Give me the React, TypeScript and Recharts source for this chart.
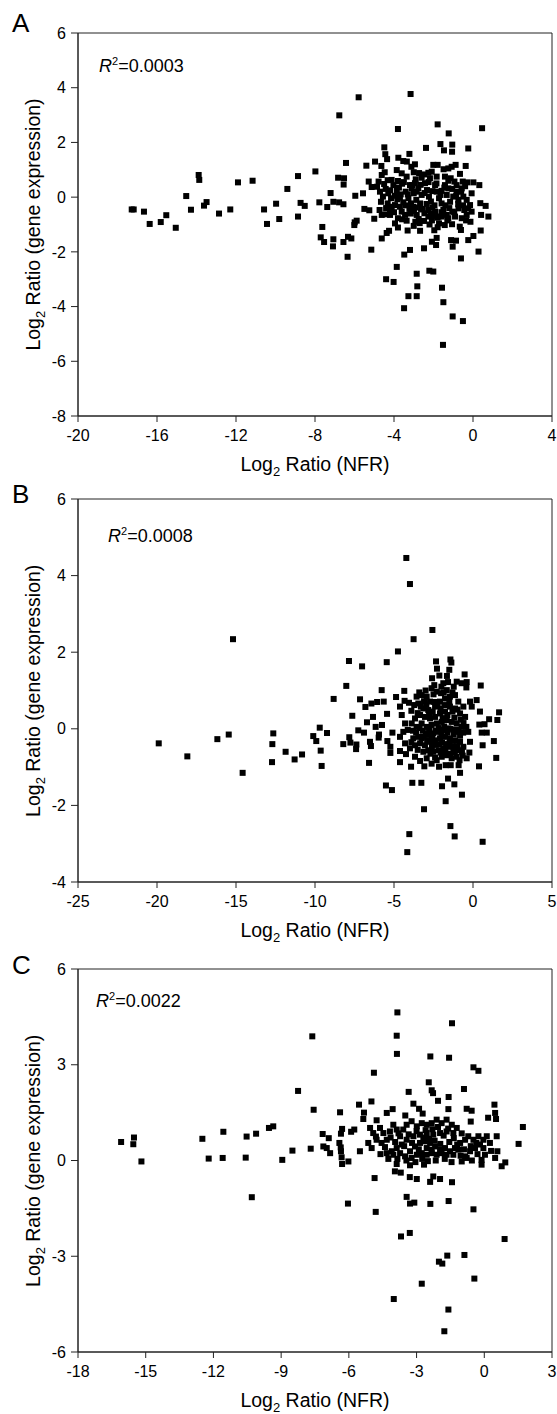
import { ScatterChart, Scatter, XAxis, YAxis, ReferenceArea } from "recharts";

const FONT = "Liberation Sans, Arial, Helvetica, sans-serif";

// Panel A: [Log2 ratio NFR, Log2 ratio gene expression]
const pointsA: [number, number][] = [
  [-17.28, -0.45], [-17.18, -0.45], [-16.66, -0.53], [-16.37, -0.98], [-15.81, -0.91], [-15.53, -0.66],
  [-15.05, -1.12], [-14.52, 0.04], [-14.28, -0.46], [-13.89, 0.81], [-13.86, 0.63], [-13.62, -0.31],
  [-13.49, -0.18],
  [-5.79, 3.65], [-3.16, 3.77], [-6.77, 2.99], [-3.8, 2.49], [-1.79, 2.66], [-1.23, 2.33], [-2.38, 1.8],
  [-4.49, 1.82], [-1.65, 1.94], [-1.05, 1.92], [-1.47, 1.71], [-1.06, 1.66], [-0.24, 1.78], [-6.43, 1.25],
  [-4.44, 1.57], [-4.35, 1.39], [-3.78, 1.44], [-3.53, 1.32], [-3.35, 1.3], [-3.22, 1.58], [-5.4, 1.15],
  [-4.96, 1.3], [-4.64, 1.14], [-8.86, 0.77], [-7.98, 0.94], [-11.9, 0.54], [-11.16, 0.6], [-9.4, 0.3],
  [-6.83, 0.71], [-6.53, 0.69], [-6.55, 0.46], [-7.21, 0.15], [-5.96, 0.05], [-5.57, 0.14], [-5.28, 0.57],
  [-5.13, 0.37], [-4.78, 0.57], [-4.62, 0.81], [-4.47, 0.91], [-4.32, 0.62], [-4.12, 0.63], [-3.8, 0.59],
  [-3.59, 0.49], [-3.12, 1.11], [-3.0, 0.91], [-2.9, 0.65], [-3.09, 0.44], [-2.73, 0.88], [-2.48, 0.83],
  [-2.26, 0.89], [-2.01, 1.18], [-1.79, 1.18], [-1.49, 1.02], [-1.25, 1.05], [-1.08, 1.11], [-0.88, 1.18],
  [-0.37, 1.14], [-0.66, 0.85], [-0.52, 0.57], [-0.29, 0.54], [0.02, 0.54], [-1.13, 0.69], [-0.94, 0.57],
  [-1.42, 0.44], [-1.59, 0.23],
  [-12.86, -0.6], [-12.29, -0.45], [-10.58, -0.45], [-9.97, -0.24], [-10.43, -0.98], [-9.81, -0.8],
  [-8.86, -0.71], [-8.73, -0.21], [-8.52, -0.32], [-7.78, -0.19], [-7.38, -0.36], [-7.07, -0.17],
  [-6.78, -0.19], [-6.56, -0.26], [-7.63, -1.09], [-7.71, -1.47], [-7.54, -1.64], [-7.07, -1.54],
  [-7.09, -1.8], [-6.56, -1.64], [-6.33, -1.45], [-6.16, -1.51], [-6.35, -2.18], [-5.99, -0.92],
  [-5.89, -0.86], [-6.01, -1.02], [-5.5, -0.43], [-5.25, -0.48], [-5.0, -0.79], [-5.15, -1.92],
  [-4.73, -0.47], [-4.62, -1.51], [-4.37, -1.31], [-4.25, -1.23], [-4.42, -0.63], [-4.2, -0.47],
  [-4.14, -0.35], [-3.83, -0.08], [-3.66, 0.1], [-3.95, -0.96], [-3.8, -0.77], [-3.8, -1.11],
  [-3.59, -0.81], [-3.36, -0.86], [-3.31, -1.22], [-3.22, -0.43], [-2.99, -0.51], [-2.92, -0.9],
  [-2.68, -1.23], [-2.75, -0.8], [-2.48, -0.87], [-2.48, -1.87], [-2.08, -0.85], [-1.96, -1.21],
  [-1.79, -1.1], [-1.72, -0.96], [-1.43, -1.02], [-1.06, -0.99], [-0.57, -0.77], [-0.67, -1.08],
  [-0.61, -1.2], [-0.13, -0.9], [0.02, -1.42], [-0.24, -1.57], [-1.11, -1.57], [-0.86, -1.59],
  [-1.03, -1.81], [-1.84, -1.49], [-1.87, -1.75], [-2.08, -1.63], [-3.19, -1.93], [-3.48, -2.1],
  [-0.61, -2.24], [-3.86, -2.55], [-4.4, -3.0], [-4.02, -3.1], [-2.85, -2.8], [-2.21, -2.69],
  [-2.01, -2.72], [-2.82, -3.26], [-1.57, -3.31], [-3.27, -3.62], [-2.85, -3.62], [-3.49, -4.06],
  [-1.5, -3.84], [-1.03, -4.36], [-0.51, -4.53], [-1.52, -5.4],
  [-4.86, 0.38], [-4.71, 0.2], [-4.56, 0.02], [-4.66, -0.17], [-4.42, 0.3], [-4.29, 0.14], [-4.15, -0.04],
  [-4.32, -0.23], [-4.03, 0.44], [-3.86, 0.23], [-3.7, -0.02], [-3.53, -0.19], [-3.41, 0.2], [-3.27, -0.04],
  [-3.14, -0.23], [-3.0, 0.14], [-2.87, -0.1], [-2.77, 0.32], [-2.6, 0.08], [-2.68, -0.23], [-2.43, 0.51],
  [-2.33, 0.26], [-2.23, 0.02], [-2.13, -0.16], [-2.06, -0.38], [-1.92, -0.53], [-2.26, -0.47],
  [-2.46, -0.59], [-2.63, -0.43], [-2.85, -0.65], [-3.02, -0.35], [-1.92, 0.44], [-1.84, 0.2],
  [-1.72, -0.04], [-1.59, -0.23], [-1.5, -0.47], [-1.33, 0.08], [-1.25, 0.32], [-1.16, -0.17],
  [-1.0, 0.02], [-0.83, 0.2], [-0.74, -0.1], [-0.49, 0.02], [-0.32, -0.1], [-0.24, -0.41], [-0.44, -0.47],
  [-0.74, -0.41], [-1.05, -0.53], [-1.33, -0.65], [-1.75, -0.71], [-2.01, -0.68], [-2.26, -0.71],
  [-2.6, 0.71], [-2.18, 0.69], [-1.84, 0.75], [-1.42, 0.75], [-3.36, 0.75], [-3.61, 0.87], [-3.86, 0.99],
  [-2.94, 1.2], [-2.09, 0.93], [-4.62, -0.65], [-4.2, -0.65], [-3.61, -0.53], [-3.44, -0.65],
  [-1.59, -0.71], [-1.25, -0.77], [-0.91, -0.71], [-0.32, -0.65], [-0.07, -0.53], [-0.15, -0.29],
  [-0.07, 0.14], [-0.57, 0.32], [-0.83, 0.44], [-2.94, 0.51], [-3.19, 0.44], [-3.95, -0.29], [-4.12, -0.41],
  [-4.5, 0.48], [-4.2, 0.25], [-3.95, 0.05], [-3.75, 0.35], [-3.5, 0.55], [-3.3, 0.1], [-3.1, 0.32],
  [-2.85, 0.2], [-2.65, 0.45], [-2.45, 0.15], [-2.25, 0.55], [-2.05, 0.22], [-1.85, 0.5], [-1.65, 0.08],
  [-1.45, 0.35], [-1.25, 0.6], [-1.05, 0.3], [-0.85, 0.05], [-0.6, 0.2], [-0.4, 0.4], [-4.4, -0.4],
  [-4.0, -0.55], [-3.7, -0.35], [-3.4, -0.3], [-3.15, -0.6], [-2.9, -0.38], [-2.55, -0.45], [-2.35, -0.25],
  [-2.15, -0.6], [-1.95, -0.3], [-1.8, -0.75], [-1.6, -0.55], [-1.4, -0.3], [-1.2, -0.4], [-0.95, -0.55],
  [-0.75, -0.25], [-0.5, -0.3], [-2.7, -0.95], [-2.2, -1.0], [-1.3, -0.85], [-3.0, -1.05], [-0.35, -0.85],
  [0.46, 2.52], [0.32, 0.44], [0.37, -0.22], [0.64, -0.32], [0.41, -0.65], [0.78, -0.71], [0.39, -1.22],
  [0.28, -1.99],
];

// Panel B
const pointsB: [number, number][] = [
  [-15.19, 2.34], [-19.89, -0.38], [-18.08, -0.72], [-16.18, -0.27], [-15.46, -0.15], [-14.58, -1.15],
  [-12.64, -0.12], [-12.7, -0.4], [-11.86, -0.6], [-12.72, -0.87],
  [-4.22, 4.46], [-3.99, 3.78], [-2.57, 2.58], [-3.76, 2.34], [-4.75, 2.02], [-7.85, 1.77], [-7.02, 1.63],
  [-5.46, 1.74], [-2.34, 1.76], [-1.43, 1.81], [-1.37, 1.73], [-2.28, 1.57], [-1.5, 1.54], [-0.53, 1.42],
  [-2.59, 1.32], [-2.13, 1.39], [-1.65, 1.38], [-1.58, 1.22], [-1.88, 1.19], [-0.4, 1.22], [-0.42, 1.08],
  [-2.45, 1.14], [-1.22, 1.1], [0.49, 1.13], [-8.02, 1.12], [-5.78, 1.01], [-4.35, 0.99], [-8.82, 0.78],
  [-7.15, 0.77], [-4.87, 0.83], [-6.43, 0.66], [-6.07, 0.7], [-5.65, 0.71], [-6.81, 0.57], [-7.64, 0.34],
  [-6.33, 0.31], [-6.71, 0.17], [-6.16, 0.05], [-5.76, 0.1], [-7.26, -0.04], [-6.9, -0.1], [-9.7, 0.03],
  [-9.24, -0.11], [-10.11, -0.19], [-9.92, -0.32], [-7.83, -0.22], [-8.21, -0.4], [-7.76, -0.36],
  [-7.38, -0.41], [-7.4, -0.53], [-6.52, -0.34], [-6.46, -0.45], [-5.95, -0.15], [-5.97, -0.23],
  [-5.44, 0.39], [-5.1, -0.1], [-5.42, -0.32], [-5.23, -0.47], [-5.23, -0.63], [-4.62, -0.58],
  [-4.62, -0.87], [-11.29, -0.8], [-10.82, -0.67], [-9.64, -0.57], [-9.58, -0.97], [-6.58, -0.89],
  [-3.92, -0.99], [-3.08, -0.98], [-2.15, -0.99], [-1.73, -0.95], [-1.41, -0.95], [-0.91, -0.95],
  [0.38, -0.98], [-0.82, -1.15], [-5.51, -1.48], [-5.13, -1.6], [-3.84, -1.41], [-3.27, -1.41],
  [-1.58, -1.3], [-1.96, -1.5], [-1.18, -1.45], [-0.7, -1.72], [-1.73, -1.89], [-3.1, -2.1],
  [-1.43, -2.54], [-1.16, -2.81], [-4.03, -2.75], [-4.16, -3.22], [0.61, -2.95],
  [0.55, -0.1], [0.61, -0.43], [0.4, 0.11], [0.44, 0.45], [0.23, 0.75], [-0.19, 0.71], [-0.08, 0.58],
  [-0.3, -0.08], [-0.19, -0.34], [-0.23, -0.62], [-0.65, -0.7], [-0.4, -0.77],
  [-4.33, 0.73], [-4.05, 0.68], [-4.62, 0.58], [-4.51, 0.36], [-4.3, 0.14], [-4.41, -0.08], [-4.13, -0.03],
  [-4.62, -0.21], [-4.3, -0.38], [-3.99, -0.51], [-4.24, -0.66], [-3.67, -0.73], [-3.35, -0.84],
  [-2.93, -0.77], [-2.62, -0.91], [-2.3, -0.82],
  [-3.57, 0.84], [-3.25, 0.88], [-2.93, 0.84], [-2.72, 0.71], [-3.46, 0.66], [-3.14, 0.53], [-2.83, 0.49],
  [-2.4, 0.58], [-2.09, 0.71], [-1.77, 0.79], [-1.46, 0.84], [-1.14, 0.88], [-0.93, 0.71], [-0.61, 0.58],
  [-0.82, 0.4], [-0.5, 0.31], [-1.14, 0.53], [-1.46, 0.58], [-1.77, 0.45], [-2.09, 0.4], [-2.4, 0.31],
  [-2.72, 0.27], [-3.04, 0.31], [-3.35, 0.36], [-3.67, 0.27], [-3.88, 0.14], [-3.57, 0.05], [-3.25, 0.14],
  [-2.93, 0.05], [-2.62, 0.1], [-2.3, 0.14], [-1.98, 0.18], [-1.66, 0.23], [-1.35, 0.18], [-1.03, 0.14],
  [-0.72, 0.05], [-0.93, -0.08], [-1.24, -0.03], [-1.56, 0.01], [-1.88, -0.03], [-2.19, -0.08],
  [-2.51, -0.12], [-2.83, -0.16], [-3.14, -0.21], [-3.46, -0.21], [-3.78, -0.25], [-3.67, -0.43],
  [-3.35, -0.38], [-3.04, -0.43], [-2.72, -0.34], [-2.4, -0.3], [-2.09, -0.25], [-1.77, -0.21],
  [-1.46, -0.25], [-1.14, -0.3], [-0.82, -0.34], [-0.61, -0.47], [-0.93, -0.56], [-1.24, -0.51],
  [-1.56, -0.47], [-1.88, -0.51], [-2.19, -0.56], [-2.51, -0.6], [-2.83, -0.56], [-3.14, -0.6],
  [-1.98, -0.73], [-1.66, -0.69], [-1.35, -0.77], [-1.03, -0.73], [-2.3, 0.97], [-2.02, 0.93],
  [-1.66, 1.01], [-2.62, 1.06], [-1.03, 1.23], [-0.72, 1.19],
  [-3.9, 0.47], [-3.72, 0.62], [-3.5, 0.41], [-3.3, 0.58], [-3.1, 0.72], [-2.95, 0.63], [-2.78, 0.38],
  [-2.55, 0.45], [-2.45, 0.7], [-2.25, 0.62], [-2.05, 0.53], [-1.92, 0.28], [-1.8, 0.62], [-1.62, 0.36],
  [-1.5, 0.7], [-1.3, 0.45], [-1.18, 0.29], [-0.98, 0.5], [-0.78, 0.24], [-0.6, 0.15], [-3.8, -0.05],
  [-3.6, -0.1], [-3.38, 0.02], [-3.18, -0.05], [-2.98, -0.12], [-2.78, -0.03], [-2.58, -0.2], [-2.38, -0.05],
  [-2.18, 0.02], [-2.0, -0.14], [-1.82, 0.06], [-1.62, -0.1], [-1.42, 0.0], [-1.22, -0.14], [-1.02, -0.02],
  [-0.82, -0.18], [-0.62, -0.1], [-0.42, 0.05], [-3.9, -0.35], [-3.5, -0.55], [-3.25, -0.25], [-2.9, -0.3],
  [-2.6, -0.45], [-2.35, -0.42], [-2.15, -0.4], [-1.95, -0.36], [-1.7, -0.4], [-1.5, -0.38], [-1.3, -0.45],
  [-1.0, -0.45], [-0.7, -0.6], [-2.7, -0.65], [-2.4, -0.75], [-2.05, -0.62], [-1.75, -0.58], [-1.45, -0.65],
  [-1.15, -0.62], [-0.85, -0.82], [-2.5, 0.9], [-2.0, 1.1], [-1.85, 0.95], [-1.3, 0.95], [-3.0, 1.0],
  [-3.4, 0.95],
  [1.65, 0.43], [1.54, 0.23], [1.02, 0.25], [0.73, 0.12], [0.87, -0.1], [1.32, -0.32], [1.47, -0.76],
];

// Panel C
const pointsC: [number, number][] = [
  [-16.09, 0.58], [-15.52, 0.72], [-15.55, 0.51], [-15.19, -0.03], [-12.49, 0.68], [-11.56, 0.9],
  [-12.21, 0.06], [-11.59, 0.08], [-10.53, 0.75], [-10.11, 0.84], [-10.57, 0.09], [-10.3, -1.15],
  [-9.54, 1.02], [-9.35, 1.07],
  [-3.85, 4.64], [-1.43, 4.3], [-7.62, 3.89], [-3.88, 3.91], [-3.87, 3.34], [-2.39, 3.26], [-1.56, 3.22],
  [-0.48, 2.92], [-0.26, 2.81], [-4.89, 2.75], [-2.46, 2.45], [-2.33, 2.2], [-2.27, 2.11], [-0.9, 2.24],
  [-1.58, 1.99], [-2.05, 1.87], [-8.25, 2.18], [-3.35, 2.15], [-7.56, 1.59], [-6.39, 1.51], [-5.55, 1.75],
  [-5.0, 1.85], [-3.14, 1.78], [-2.89, 1.62], [-2.73, 1.47], [-1.59, 1.61], [-0.78, 1.62], [-0.56, 1.56],
  [0.45, 1.75], [0.48, 1.49], [0.52, 1.3], [0.17, 1.34], [-0.6, 1.22], [-5.33, 1.5], [-5.36, 1.3],
  [-4.06, 1.61], [-4.32, 1.49], [-3.5, 1.41], [-4.77, 1.26], [-7.16, 0.83], [-6.89, 0.7], [-6.3, 0.99],
  [-6.35, 0.84], [-5.9, 0.9], [-5.76, 0.97], [-7.13, 0.44], [-6.98, 0.39], [-6.83, 0.23], [-6.42, 0.55],
  [-6.36, 0.41], [-6.35, 0.29], [-8.5, 0.31], [-7.69, 0.37], [-5.51, 0.29], [-6.32, 0.1], [-6.3, -0.11],
  [-6.02, -0.03], [-8.95, 0.02], [-4.86, -0.55], [-6.04, -1.35], [-4.81, -1.61], [-3.96, -0.34],
  [-3.7, -0.38], [-3.88, -0.11], [-3.3, -0.52], [-2.99, -0.58], [-3.29, -0.15], [-2.67, -0.13],
  [-2.4, -0.67], [-2.26, -0.5], [-1.96, -0.58], [-1.43, -0.68], [-3.44, -1.14], [-3.29, -1.35],
  [-3.1, -1.32], [-2.39, -1.36], [-1.58, -1.27], [-0.48, -1.53], [-3.69, -2.38], [-3.3, -2.27],
  [-1.64, -2.98], [-2.01, -3.17], [-1.86, -3.23], [-0.88, -2.96], [-0.44, -3.7], [-2.77, -3.86],
  [-4.01, -4.34], [-1.59, -4.67], [-1.77, -5.35], [0.9, -2.46],
  [-5.06, 1.02], [-4.92, 0.86], [-4.62, 1.02], [-4.47, 0.86], [-4.77, 0.65], [-4.55, 0.55], [-5.14, 0.55],
  [-4.99, 0.39], [-4.32, 0.65], [-4.18, 0.91], [-4.03, 1.12], [-3.88, 0.97], [-3.73, 0.76], [-3.59, 0.97],
  [-3.44, 1.12], [-3.22, 1.23], [-2.99, 1.07], [-2.77, 1.17], [-2.55, 1.12], [-2.33, 1.17], [-2.11, 1.28],
  [-1.89, 1.17], [-1.67, 1.28], [-1.44, 1.12], [-1.22, 1.02], [-1.37, 0.86], [-1.67, 0.91], [-1.96, 0.86],
  [-2.26, 0.81], [-2.55, 0.86], [-2.85, 0.81], [-3.14, 0.76], [-3.44, 0.65], [-3.66, 0.5], [-3.88, 0.39],
  [-4.1, 0.29], [-4.32, 0.23], [-4.03, 0.18], [-3.73, 0.23], [-3.51, 0.13], [-3.29, 0.29], [-3.07, 0.44],
  [-2.85, 0.55], [-2.63, 0.6], [-2.4, 0.55], [-2.18, 0.44], [-1.96, 0.34], [-1.74, 0.39], [-1.52, 0.29],
  [-1.3, 0.39], [-1.07, 0.55], [-0.85, 0.65], [-0.71, 0.76], [-0.48, 0.65], [-0.26, 0.76], [-0.04, 0.65],
  [0.11, 0.76], [-0.19, 0.5], [-0.41, 0.39], [-0.63, 0.29], [-0.85, 0.13], [-1.0, -0.03], [-0.78, 0.08],
  [-0.04, 0.39], [0.03, 0.18], [-0.12, 0.02], [-0.12, -0.13], [0.48, 0.08], [0.58, 0.29], [0.55, 0.76],
  [0.77, -0.18], [-1.15, 0.34], [-1.37, 0.18], [-1.67, 0.18], [-1.89, 0.23], [-2.11, 0.18], [-2.33, 0.23],
  [-2.55, 0.18], [-2.77, 0.23], [-2.99, 0.18], [-3.22, 0.08], [-2.55, 0.39], [-2.33, 0.34],
  [-4.8, 0.75], [-4.4, 0.42], [-4.15, 0.72], [-3.95, 0.58], [-3.8, 0.85], [-3.55, 0.45], [-3.35, 0.82],
  [-3.2, 0.55], [-3.0, 0.92], [-2.9, 0.35], [-2.7, 0.72], [-2.6, 0.95], [-2.45, 0.68], [-2.3, 0.98],
  [-2.2, 0.62], [-2.05, 1.05], [-1.95, 0.52], [-1.8, 0.78], [-1.6, 1.0], [-1.55, 0.58], [-1.35, 0.7],
  [-1.2, 0.5], [-1.0, 0.85], [-0.9, 0.35], [-0.6, 0.45], [-0.35, 0.55], [-4.6, 0.2], [-4.25, 0.05],
  [-3.85, 0.05], [-3.45, 0.0], [-3.05, -0.05], [-2.75, 0.05], [-2.5, -0.02], [-2.15, 0.0], [-1.75, 0.05],
  [-1.45, -0.05], [-1.05, 0.15], [-0.55, 0.0], [-0.3, 0.2], [0.3, 0.3], [0.25, 0.55],
  [1.71, 1.05], [1.52, 0.52], [0.93, -0.06],
];

const xTicksA = [-20, -16, -12, -8, -4, 0, 4];
const yTicksA = [6, 4, 2, 0, -2, -4, -6, -8];
const xTicksB = [-25, -20, -15, -10, -5, 0, 5];
const yTicksB = [6, 4, 2, 0, -2, -4];
const xTicksC = [-18, -15, -12, -9, -6, -3, 0, 3];
const yTicksC = [6, 3, 0, -3, -6];

const panels = [
  { key: "A", top: 13, points: pointsA, xTicks: xTicksA, yTicks: yTicksA },
  { key: "B", top: 479.3, points: pointsB, xTicks: xTicksB, yTicks: yTicksB },
  { key: "C", top: 949.3, points: pointsC, xTicks: xTicksC, yTicks: yTicksC },
];

const AXIS = "#222";
const W = 557;
const H = 460;

const squareDot = (props: any) => {
  const { cx, cy } = props;
  if (cx == null || cy == null) return null;
  return <rect x={cx - 3} y={cy - 3} width={6} height={6} fill="#000" />;
};

function Panel({ top, points, xTicks, yTicks }: any) {
  const data = points.map(([x, y]: [number, number]) => ({ x, y }));
  const xMin = xTicks[0];
  const xMax = xTicks[xTicks.length - 1];
  const yMax = yTicks[0];
  const yMin = yTicks[yTicks.length - 1];
  return (
    <div style={{ position: "absolute", left: 0, top }}>
      <ScatterChart width={W} height={H} margin={{ top: 20, right: 5, bottom: 0, left: 0 }}>
        <XAxis
          type="number"
          dataKey="x"
          domain={[xMin, xMax]}
          ticks={xTicks}
          interval={0}
          height={57}
          tickSize={6}
          tickMargin={8}
          axisLine={{ stroke: AXIS }}
          tickLine={{ stroke: AXIS }}
          tick={{ fill: "#000", fontSize: 16, fontFamily: FONT }}
        />
        <YAxis
          type="number"
          dataKey="y"
          domain={[yMin, yMax]}
          ticks={yTicks}
          interval={0}
          width={78}
          tickSize={7}
          tickMargin={5}
          axisLine={{ stroke: AXIS }}
          tickLine={{ stroke: AXIS }}
          tick={{ fill: "#000", fontSize: 16, fontFamily: FONT }}
        />
        <ReferenceArea x1={xMin} x2={xMax} y1={yMin} y2={yMax} fill="none" stroke={AXIS} strokeWidth={1} />
        <Scatter data={data} shape={squareDot} isAnimationActive={false} />
      </ScatterChart>
    </div>
  );
}

// plot area of each panel: x 78..552, height 383
const plotTops = [33, 499.3, 969.3];
const plotH = 383;
const r2Labels = [
  { text: "0.0003", x: 99, y: 72 },
  { text: "0.0008", x: 108, y: 542 },
  { text: "0.0022", x: 96, y: 1007 },
];
const letterPos = [
  { x: 12, y: 32 },
  { x: 12, y: 503 },
  { x: 12, y: 974 },
];

export default function App() {
  return (
    <div style={{ position: "absolute", left: 0, top: 0, width: W, height: 1414, background: "#fff" }}>
      {panels.map((p) => (
        <Panel key={p.key} {...p} />
      ))}
      <svg
        width={W}
        height={1414}
        style={{ position: "absolute", left: 0, top: 0, pointerEvents: "none" }}
        fontFamily={FONT}
      >
        {panels.map((p, i) => {
          const t = plotTops[i];
          const cy = t + plotH / 2;
          return (
            <g key={p.key}>
              <text x={letterPos[i].x} y={letterPos[i].y} fontSize={26} fill="#000">
                {p.key}
              </text>
              <text x={r2Labels[i].x} y={r2Labels[i].y} fontSize={18} fill="#000">
                <tspan fontStyle="italic">R</tspan>
                <tspan dy={-7} fontSize={11}>2</tspan>
                <tspan dy={7}>={r2Labels[i].text}</tspan>
              </text>
              <text x={315} y={t + plotH + 55} fontSize={19.5} textAnchor="middle" fill="#000">
                Log<tspan dy={5} fontSize={13}>2</tspan>
                <tspan dy={-5}> Ratio (NFR)</tspan>
              </text>
              <text
                x={40}
                y={cy}
                fontSize={19.5}
                textAnchor="middle"
                fill="#000"
                transform={`rotate(-90, 40, ${cy})`}
              >
                Log<tspan dy={5} fontSize={13}>2</tspan>
                <tspan dy={-5}> Ratio (gene expression)</tspan>
              </text>
            </g>
          );
        })}
      </svg>
    </div>
  );
}
